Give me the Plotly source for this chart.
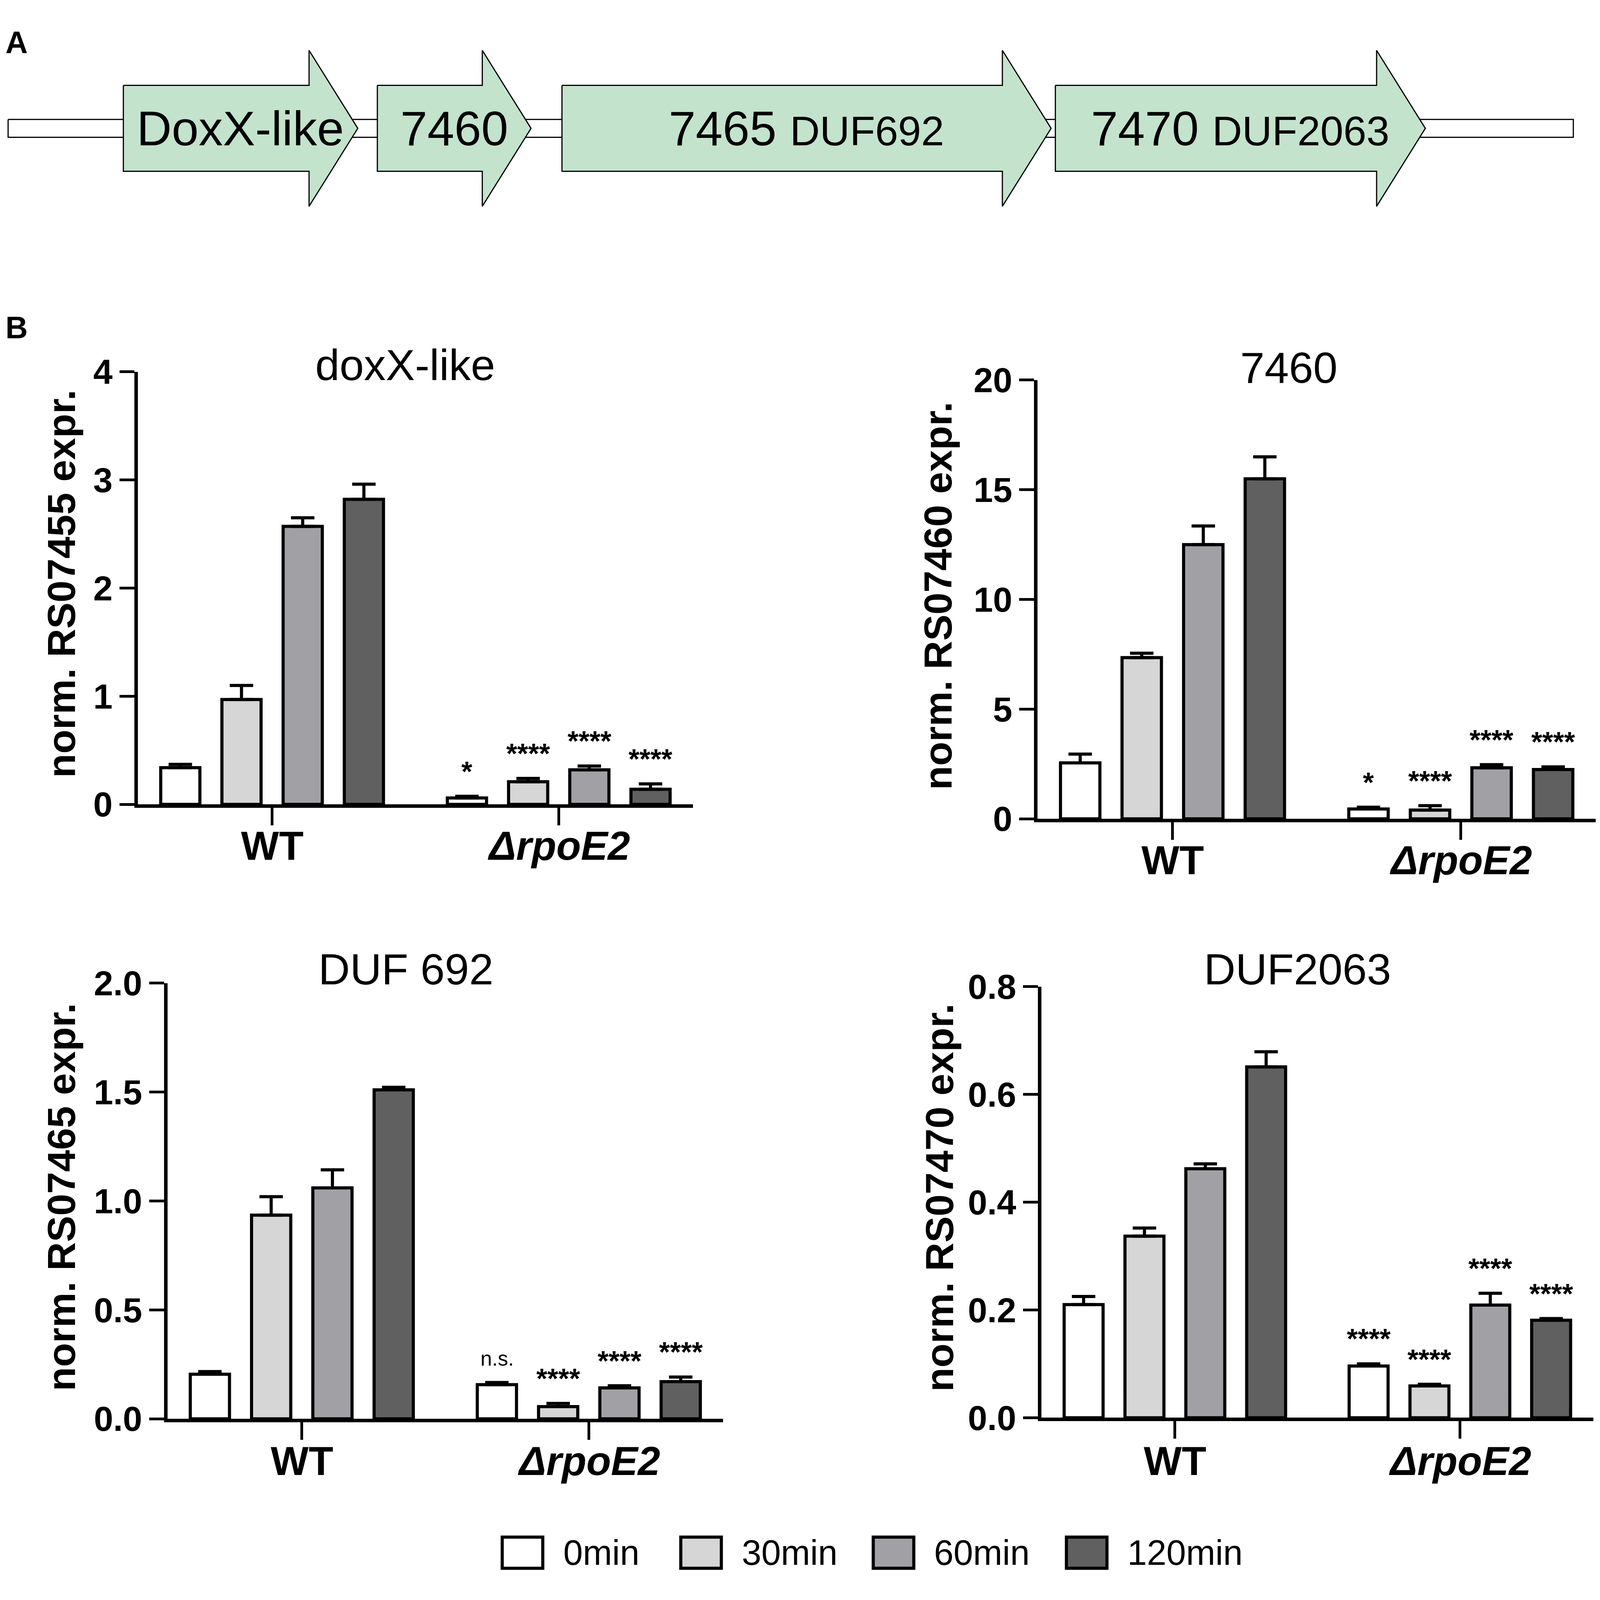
import plotly.graph_objects as go

# reference picture size (all positions below are read in these pixels)
W_REF, H_REF = 4489, 4097
# the browser viewport is 4096 px; keep the page inside it (8 px body margin)
FW, FH = 4088, 4088
SX = FW / W_REF          # horizontal scale for widths
SY = FH / H_REF          # vertical scale for heights
FS = 0.92                # font scale
FONT = "Liberation Sans, Arial, sans-serif"

# ---- data ----
groups = ["WT", "ΔrpoE2"]
group_labels = ["<b>WT</b>", "<b><i>ΔrpoE2</i></b>"]
times = ["0min", "30min", "60min", "120min"]
colors = ["#ffffff", "#d6d6d6", "#a1a1a5", "#606060"]

doxx_wt = [0.34, 0.97, 2.57, 2.82]
doxx_wt_err = [0.03, 0.13, 0.08, 0.14]
doxx_del = [0.06, 0.21, 0.32, 0.14]
doxx_del_err = [0.015, 0.03, 0.035, 0.05]
doxx_stars = ["*", "****", "****", "****"]

rs7460_wt = [2.55, 7.35, 12.5, 15.5]
rs7460_wt_err = [0.4, 0.2, 0.85, 1.0]
rs7460_del = [0.45, 0.4, 2.33, 2.25]
rs7460_del_err = [0.08, 0.2, 0.14, 0.12]
rs7460_stars = ["*", "****", "****", "****"]

duf692_wt = [0.205, 0.935, 1.06, 1.51]
duf692_wt_err = [0.012, 0.085, 0.083, 0.012]
duf692_del = [0.157, 0.056, 0.142, 0.171]
duf692_del_err = [0.01, 0.015, 0.01, 0.021]
duf692_stars = ["n.s.", "****", "****", "****"]

duf2063_wt = [0.21, 0.337, 0.462, 0.651]
duf2063_wt_err = [0.015, 0.015, 0.009, 0.028]
duf2063_del = [0.096, 0.059, 0.209, 0.181]
duf2063_del_err = [0.004, 0.003, 0.022, 0.003]
duf2063_stars = ["****", "****", "****", "****"]

titles = ["doxX-like", "7460", "DUF 692", "DUF2063"]
ytitles = ["norm. RS07455 expr.", "norm. RS07460 expr.",
           "norm. RS07465 expr.", "norm. RS07470 expr."]
ymax = [4, 20, 2.0, 0.8]
yticks = [[0, 1, 2, 3, 4], [0, 5, 10, 15, 20],
          [0, 0.5, 1.0, 1.5, 2.0], [0, 0.2, 0.4, 0.6, 0.8]]
ytick_text = [["0", "1", "2", "3", "4"], ["0", "5", "10", "15", "20"],
              ["0.0", "0.5", "1.0", "1.5", "2.0"],
              ["0.0", "0.2", "0.4", "0.6", "0.8"]]

# gene map (track units)
gene_names = ["DoxX-like", "7460", "7465", "7470"]
gene_domains = ["", "", "DUF692", "DUF2063"]
gene_start = [338, 1052, 1571, 2958]
gene_end = [997, 1484, 2946, 3998]
track = [14, 4414]

panels = [
    (doxx_wt, doxx_wt_err, doxx_del, doxx_del_err, doxx_stars),
    (rs7460_wt, rs7460_wt_err, rs7460_del, rs7460_del_err, rs7460_stars),
    (duf692_wt, duf692_wt_err, duf692_del, duf692_del_err, duf692_stars),
    (duf2063_wt, duf2063_wt_err, duf2063_del, duf2063_del_err, duf2063_stars),
]


def px(x):
    return x / W_REF


def py(y):
    return 1 - y / H_REF


def f(size):
    return round(size * FS)


# plot boxes: left, right, top, bottom (reference pixels)
boxes = [(379, 1939, 918, 2056), (2908, 4477, 940, 2094),
         (462, 2024, 2526, 3672), (2919, 4470, 2535, 3669)]
title_pos = [(1130, 900), (3614, 908), (1132, 2490), (3639, 2490)]
ytitle_pos = [(163, 1475), (2628, 1507), (163, 3088), (2632, 3090)]
cat_label_y = [2165, 2203, 3783, 3783]

BARGAP, GROUPGAP = 0.146, 0.36
group_w = 1 - BARGAP

fig = go.Figure()
annotations = []
shapes = []

for i, (wt, wt_e, dl, dl_e, stars) in enumerate(panels):
    n = i + 1
    xa, ya = "x%d" % n, "y%d" % n
    for j, t in enumerate(times):
        fig.add_trace(go.Bar(
            x=groups, y=[wt[j], dl[j]], name=t, showlegend=False,
            xaxis=xa, yaxis=ya,
            marker=dict(color=colors[j], line=dict(color="black", width=8)),
            error_y=dict(type="data", symmetric=False,
                         array=[wt_e[j], dl_e[j]], arrayminus=[0, 0],
                         color="black", thickness=8, width=30),
        ))
        off = -group_w / 2 + (j + 0.5) * group_w / len(times)
        small = stars[j] == "n.s."
        annotations.append(dict(
            x=1 + off, y=dl[j] + dl_e[j], xref=xa, yref=ya,
            text=stars[j], showarrow=False, xanchor="center", yanchor="bottom",
            yshift=30 if small else 22,
            font=dict(family=FONT, size=f(58) if small else f(78), color="black",
                      weight="normal" if small else "bold"),
        ))
    l, r, t_, b = boxes[i]
    axis_common = dict(showline=True, linewidth=9, linecolor="black",
                       ticks="outside", tickwidth=7,
                       tickcolor="black", showgrid=False, zeroline=False)
    fig.update_layout(**{
        "xaxis%d" % n: dict(domain=[px(l), px(r)], anchor=ya,
                            type="category", categoryarray=groups,
                            tickvals=groups, ticktext=["", ""],
                            range=[-0.468, 1.468], ticklen=round(45 * SY),
                            **axis_common),
        "yaxis%d" % n: dict(domain=[py(b), py(t_)], anchor=xa,
                            range=[0, ymax[i]], tickvals=yticks[i],
                            ticktext=ytick_text[i], ticklen=round(42 * SX),
                            tickfont=dict(family=FONT, size=f(97), color="black",
                                          weight="bold"),
                            **axis_common),
    })
    # category labels under the axis
    for g, lab in zip(groups, group_labels):
        annotations.append(dict(x=g, y=py(cat_label_y[i]), xref=xa, yref="paper",
                                text=lab, showarrow=False,
                                xanchor="center", yanchor="middle",
                                font=dict(family=FONT, size=f(112), color="black")))
    tx, ty = title_pos[i]
    annotations.append(dict(x=px(tx), y=py(ty), xref="paper", yref="paper",
                            text=titles[i], showarrow=False,
                            xanchor="center", yanchor="middle",
                            font=dict(family=FONT, size=f(122), color="black")))
    yx, yy = ytitle_pos[i]
    annotations.append(dict(x=px(yx), y=py(yy), xref="paper", yref="paper",
                            text=ytitles[i], showarrow=False, textangle=-90,
                            xanchor="center", yanchor="middle",
                            font=dict(family=FONT, size=f(110), color="black",
                                      weight="bold")))

# ---- gene map (panel A) ----
GA, GY = "x5", "y5"
mid, body, head, track_h, head_len = 278, 113, 205, 23.5, 137
fig.add_trace(go.Scatter(
    x=[track[0], track[1], track[1], track[0], track[0]],
    y=[mid - track_h, mid - track_h, mid + track_h, mid + track_h, mid - track_h],
    mode="lines", fill="toself", fillcolor="white",
    line=dict(color="black", width=3), xaxis=GA, yaxis=GY,
    showlegend=False, hoverinfo="skip"))
for k, name in enumerate(gene_names):
    s, e = gene_start[k], gene_end[k]
    hb = e - head_len
    fig.add_trace(go.Scatter(
        x=[s, hb, hb, e, hb, hb, s, s],
        y=[mid - body, mid - body, mid - head, mid, mid + head, mid + body,
           mid + body, mid - body],
        mode="lines", fill="toself", fillcolor="#c3e3cc",
        line=dict(color="black", width=3), xaxis=GA, yaxis=GY,
        showlegend=False, hoverinfo="skip"))
    label = name
    if gene_domains[k]:
        label += " <span style='font-size:%dpx'>%s</span>" % (f(115), gene_domains[k])
    annotations.append(dict(x=(s + e) / 2, y=mid, xref=GA, yref=GY,
                            text=label, showarrow=False,
                            xanchor="center", yanchor="middle",
                            font=dict(family=FONT, size=f(135), color="black")))

fig.update_layout(
    xaxis5=dict(domain=[0, 1], range=[0, W_REF], visible=False, anchor=GY),
    yaxis5=dict(domain=[py(560), 1], range=[560, 0], visible=False, anchor=GA),
)

# panel letters
for letter, (lx, ly) in zip(["A", "B"], [(38, 52), (38, 802)]):
    annotations.append(dict(x=px(lx), y=py(ly), xref="paper", yref="paper",
                            text=letter, showarrow=False,
                            xanchor="center", yanchor="middle",
                            font=dict(family=FONT, size=f(86), color="black",
                                      weight="bold")))

# ---- legend ----
legend_box_x = [1403, 1905, 2446, 2989]
box_w, box_top, box_bot, text_gap = 114, 3983, 4065, 55
for j, t in enumerate(times):
    x0 = legend_box_x[j]
    shapes.append(dict(type="rect", xref="paper", yref="paper",
                       x0=px(x0), x1=px(x0 + box_w), y0=py(box_bot), y1=py(box_top),
                       fillcolor=colors[j], line=dict(color="black", width=8)))
    annotations.append(dict(x=px(x0 + box_w + text_gap), y=py((box_top + box_bot) / 2),
                            xref="paper", yref="paper",
                            xanchor="left", yanchor="middle",
                            text=t, showarrow=False,
                            font=dict(family=FONT, size=f(98), color="black")))

fig.update_layout(
    width=FW, height=FH, margin=dict(l=0, r=0, t=0, b=0),
    paper_bgcolor="white", plot_bgcolor="white",
    barmode="group", bargap=BARGAP, bargroupgap=GROUPGAP,
    showlegend=False, hovermode=False,
    annotations=annotations, shapes=shapes,
)

fig.write_html("out.html")
